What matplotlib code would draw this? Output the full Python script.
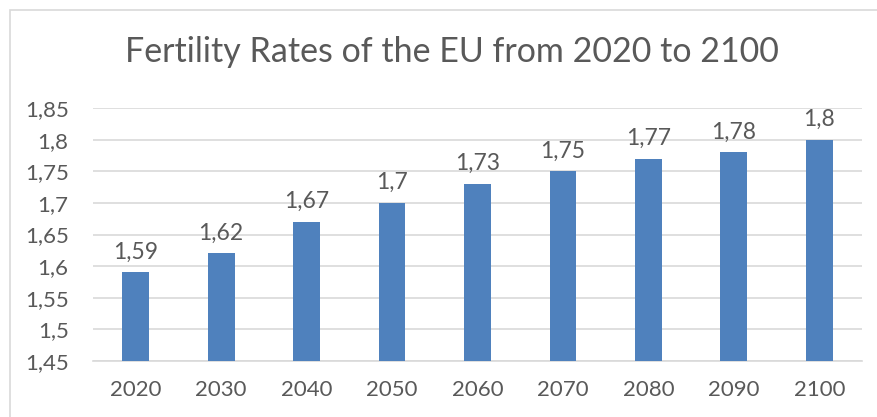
import numpy as np
import matplotlib.pyplot as plt
from matplotlib.patches import Rectangle

years = ["2020", "2030", "2040", "2050", "2060", "2070", "2080", "2090", "2100"]
rates = [1.59, 1.62, 1.67, 1.70, 1.73, 1.75, 1.77, 1.78, 1.80]
yticks = [1.45, 1.5, 1.55, 1.6, 1.65, 1.7, 1.75, 1.8, 1.85]

txt = "#595959"
grid = "#D9D9D9"
plt.rcParams['font.family'] = ['Lato', 'DejaVu Sans']

fig = plt.figure(figsize=(8.77, 4.17), dpi=100)
# chart frame, cropped at right and bottom
fig.patches.append(Rectangle((10 / 877, -0.1), 1.0, 1 - 10 / 417 + 0.1,
                             transform=fig.transFigure, fill=False,
                             edgecolor=grid, lw=1.2))
ax = fig.add_axes([93 / 877, 1 - 361 / 417, (862 - 93) / 877, (361 - 108) / 417])

x = np.arange(len(years))
ax.bar(x, rates, width=0.313, color="#4F81BD", zorder=3)
for xi, v in zip(x, rates):
    ax.annotate(f"{v:g}".replace(".", ","), (xi, v), xytext=(0, 7),
                textcoords="offset points", ha="center", va="bottom",
                fontsize=16.5, color=txt)

ax.set_xlim(-0.5, len(years) - 0.5)
ax.set_ylim(1.45, 1.85)
ax.set_yticks(yticks)
ax.set_yticklabels([f"{t:g}".replace(".", ",") for t in yticks])
ax.set_xticks(x)
ax.set_xticklabels(years)
ax.tick_params(length=0, labelsize=16, labelcolor=txt)
ax.tick_params(axis="x", pad=14)
ax.tick_params(axis="y", pad=17.5)
ax.grid(axis="y", color=grid, lw=1.2, zorder=0)
for s in ["top", "right", "left"]:
    ax.spines[s].set_visible(False)
ax.spines["bottom"].set_color(grid)
ax.spines["bottom"].set_linewidth(1.2)

fig.text(452 / 877, 1 - 52 / 417, "Fertility Rates of the EU from 2020 to 2100",
         ha="center", va="center", fontsize=24.5, color=txt)

fig.savefig("out.png", dpi=100)
